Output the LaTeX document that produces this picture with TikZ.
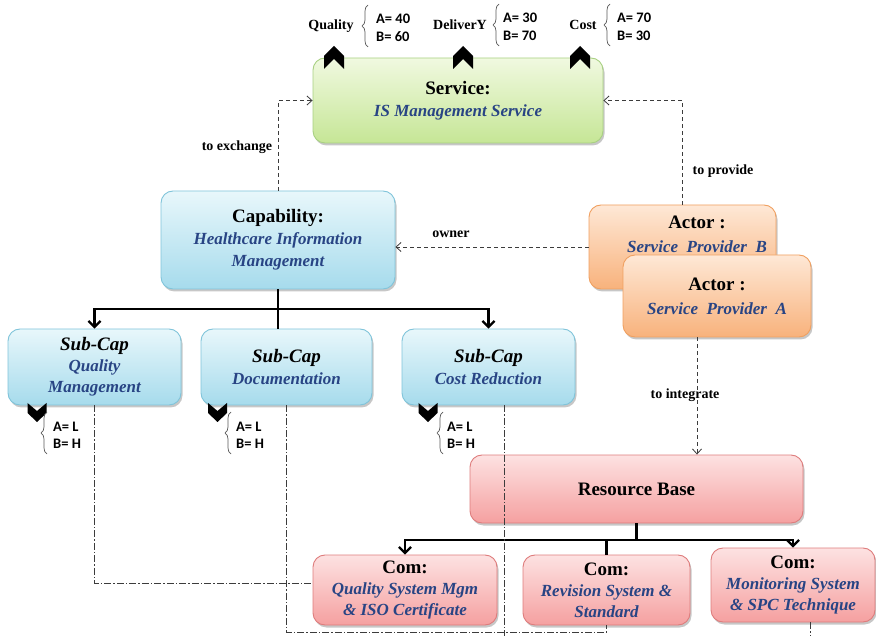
\documentclass[tikz,border=0pt]{standalone}
\usepackage{fontspec}
\setmainfont{Liberation Serif}
\newfontfamily\calib{Carlito}
\usetikzlibrary{arrows.meta,shadows,decorations.pathreplacing,calc}

\definecolor{txtblue}{RGB}{40,68,132}
\definecolor{grnA}{RGB}{240,249,224}\definecolor{grnB}{RGB}{198,230,150}\definecolor{grnD}{RGB}{168,208,130}
\definecolor{bluA}{RGB}{232,247,251}\definecolor{bluB}{RGB}{166,219,236}\definecolor{bluD}{RGB}{128,196,218}
\definecolor{orA}{RGB}{254,232,214}\definecolor{orB}{RGB}{248,178,124}\definecolor{orD}{RGB}{240,160,96}
\definecolor{rdA}{RGB}{253,226,226}\definecolor{rdB}{RGB}{245,160,160}\definecolor{rdD}{RGB}{222,124,124}
\definecolor{lnk}{RGB}{60,60,60}

\newcommand{\hd}[1]{{\fontsize{19}{22}\selectfont\bfseries #1}}
\newcommand{\bl}[1]{\textcolor{txtblue}{\bfseries\itshape #1}}

\begin{document}
\begin{tikzpicture}[x=1pt,y=-1pt,
  box/.style={rounded corners=12pt, line width=0.9pt, align=center, inner sep=0pt,
    font=\fontsize{17}{22}\selectfont,
    drop shadow={shadow xshift=1.5pt, shadow yshift=-2.5pt, opacity=0.22, fill=black}},
  svcbox/.style={box, draw=grnD, top color=grnA, bottom color=grnB},
  capbox/.style={box, draw=bluD, top color=bluA, bottom color=bluB},
  actbox/.style={box, draw=orD, top color=orA, bottom color=orB},
  resbox/.style={box, draw=rdD, top color=rdA, bottom color=rdB},
  relabel/.style={font=\fontsize{14}{16}\selectfont\bfseries, inner sep=1pt},
  critlabel/.style={font=\fontsize{14}{16}\selectfont\bfseries, inner sep=1pt},
  vallabel/.style={font=\calib\fontsize{14.5}{16}\selectfont\bfseries, anchor=west, inner sep=0pt},
  relation/.style={draw=lnk, line width=0.8pt, dash pattern=on 4pt off 3pt,
    -{Straight Barb[length=5pt,width=9pt,line width=0.8pt]}},
  trace/.style={draw=lnk, line width=0.9pt, dash pattern=on 7pt off 2pt on 1.5pt off 2pt},
  tree/.style={draw=black, line width=2.4pt},
  treearrow/.style={tree, -{Straight Barb[length=6pt,width=12pt,line width=2.2pt]}},
  valbrace/.style={draw=black!65, line width=0.7pt, decorate, decoration={brace, amplitude=6pt}},
  upchev/.pic={\fill[black] (0,0) -- (10,10) -- (10,23) -- (0,13) -- (-10,23) -- (-10,10) -- cycle;},
  downchev/.pic={\fill[black] (-9.5,0) -- (0,8) -- (9.5,0) -- (9.5,10) -- (0,19) -- (-9.5,10) -- cycle;}
]
\useasboundingbox (0,0) rectangle (876,636);

% ---- main boxes ----
\node[svcbox, minimum width=290pt, minimum height=85pt] (svc) at (458,100.5)
  {\hd{Service:}\\ \bl{IS Management Service}};
\node[capbox, minimum width=234pt, minimum height=98pt] (cap) at (278,240)
  {\hd{Capability:}\\ \bl{Healthcare Information}\\ \bl{Management}};
\node[actbox, minimum width=187pt, minimum height=84pt] (actB) at (682.5,247) {};
\node[font=\fontsize{17}{24}\selectfont, align=center, inner sep=0pt] (actBtxt) at (697,234)
  {\hd{Actor :}\\ \bl{Service\ \ Provider\ \ B}};
\node[actbox, minimum width=188pt, minimum height=82pt, font=\fontsize{17}{24}\selectfont] (actA) at (717,296)
  {\hd{Actor :}\\ \bl{Service\ \ Provider\ \ A}};

\node[capbox, minimum width=173pt, minimum height=76pt, font=\fontsize{17}{21}\selectfont] (sub1) at (94.5,367)
  {{\fontsize{19}{21}\selectfont\bfseries\itshape Sub-Cap}\\ \bl{Quality}\\ \bl{Management}};
\node[capbox, minimum width=171pt, minimum height=76pt] (sub2) at (286.5,367)
  {{\fontsize{19}{22}\selectfont\bfseries\itshape Sub-Cap}\\ \bl{Documentation}};
\node[capbox, minimum width=173pt, minimum height=76pt] (sub3) at (488.5,367)
  {{\fontsize{19}{22}\selectfont\bfseries\itshape Sub-Cap}\\ \bl{Cost Reduction}};

\node[resbox, minimum width=333pt, minimum height=68pt] (res) at (636.5,489)
  {\hd{Resource Base}};
\node[resbox, minimum width=184pt, minimum height=70pt, font=\fontsize{17}{21}\selectfont] (com1) at (405,590)
  {\hd{Com:}\\ \bl{Quality System Mgm}\\ \bl{\& ISO Certificate}};
\node[resbox, minimum width=167pt, minimum height=70pt, font=\fontsize{17}{21}\selectfont] (com2) at (606.5,590)
  {\hd{Com:}\\ \bl{Revision System \&}\\ \bl{Standard}};
\node[resbox, minimum width=164pt, minimum height=74pt, font=\fontsize{17}{21}\selectfont] (com3) at (793,585)
  {\hd{Com:}\\ \bl{Monitoring System}\\ \bl{\& SPC Technique}};

% ---- dashed relations ----
\draw[relation] (cap.north) |- (svc.west);
\draw[relation] (actB.north) |- (svc.east);
\draw[relation] (actB.west) -- (actB.west -| cap.east);
\draw[relation] ([xshift=-20pt]actA.south) -- ([xshift=-20pt]actA.south |- res.north);
\node[relabel] (lexch) at (237,147) {to exchange};
\node[relabel] (lprov) at (723,171) {to provide};
\node[relabel] (lown) at (451,234) {owner};
\node[relabel] (linteg) at (685,395) {to integrate};

% ---- decomposition trees ----
\coordinate (capj) at (cap.south |- 0,309);
\draw[tree] (cap.south) -- (cap.south |- sub2.north);
\draw[treearrow] (capj) -| (sub1.north);
\draw[treearrow] (capj) -| (sub3.north);
\coordinate (resj) at (res.south |- 0,540);
\draw[tree] (res.south) -- (resj);
\draw[treearrow] (resj) -| (com1.north);
\draw[treearrow] (resj) -| (com3.north);
\draw[tree] (resj) -| (com2.north);

% ---- dash-dot traces from sub-capabilities to components ----
\coordinate (bot) at (0,636);
\draw[trace] (sub1.south) |- ([yshift=7pt]com1.west);
\draw[trace] (sub2.south) -- (sub2.south |- 0,632) -| (com2.south);
\draw[trace] ([xshift=15.5pt]sub3.south) -- ([xshift=15.5pt]sub3.south |- bot);
\draw[trace] ([xshift=17pt]com3.south) -- ([xshift=17pt]com3.south |- bot);

% ---- service criteria ----
\pic at (334,46) {upchev};
\pic at (463,46) {upchev};
\pic at (580,46) {upchev};
\node[critlabel] (cq) at (331,26) {Quality};
\draw[valbrace] (368,47) -- (368,5);
\node[vallabel] (cqa) at (376,19) {A= 40};
\node[vallabel] (cqb) at (376,37) {B= 60};
\node[critlabel] (cd) at (460,25) {DeliverY};
\draw[valbrace] (499,46) -- (499,4);
\node[vallabel] (cda) at (503,18) {A= 30};
\node[vallabel] (cdb) at (503,36) {B= 70};
\node[critlabel] (cc) at (583,25) {Cost};
\draw[valbrace] (610,46) -- (610,4);
\node[vallabel] (cca) at (617,18) {A= 70};
\node[vallabel] (ccb) at (617,36) {B= 30};

% ---- sub-capability ratings ----
\pic at (37,403) {downchev};
\pic at (217.5,403) {downchev};
\pic at (428,403) {downchev};
\draw[valbrace] (47,454) -- (47,412);
\node[vallabel] (s1a) at (53,427) {A= L};
\node[vallabel] (s1b) at (53,444) {B= H};
\draw[valbrace] (231,454) -- (231,412);
\node[vallabel] (s2a) at (236,427) {A= L};
\node[vallabel] (s2b) at (236,444) {B= H};
\draw[valbrace] (443,454) -- (443,412);
\node[vallabel] (s3a) at (447,427) {A= L};
\node[vallabel] (s3b) at (447,444) {B= H};
\end{tikzpicture}
\end{document}
